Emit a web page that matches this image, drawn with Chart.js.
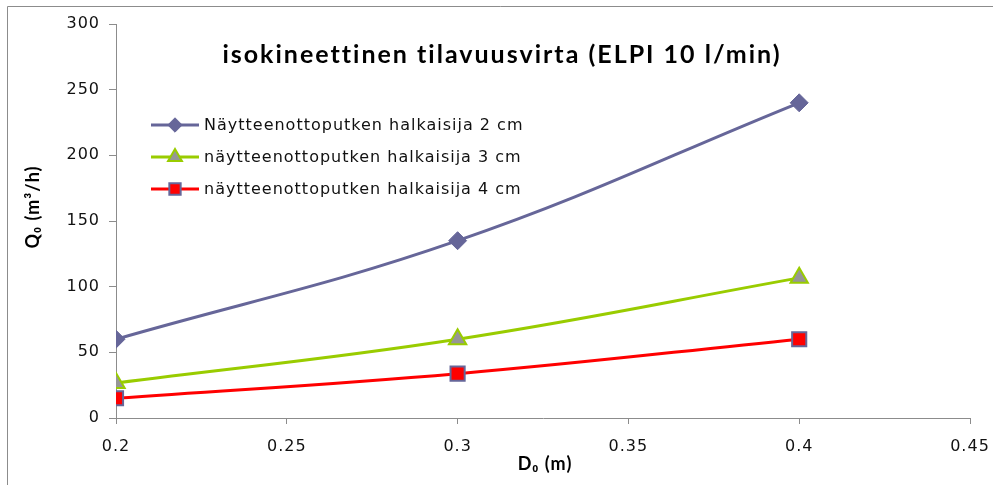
<!DOCTYPE html>
<html>
<head>
<meta charset="utf-8">
<script src="https://cdn.jsdelivr.net/npm/chart.js@4/dist/chart.umd.min.js"></script>
<style>
  html, body { margin: 0; padding: 0; background: #fff; }
  #wrap { position: relative; width: 993px; height: 485px; }
</style>
</head>
<body>
<div id="wrap"><canvas id="c" width="993" height="485"></canvas></div>
<script>
// Sampling tube diameter D0 (m)
const diameters = [0.2, 0.3, 0.4];
// Isokinetic volume flow Q0 (m3/h) for each sampling tube size
const tube2cm = [60, 135, 240];
const tube3cm = [26.7, 60, 106.7];
const tube4cm = [15, 33.75, 60];
const seriesLabels = [
  'Näytteenottoputken halkaisija 2 cm',
  'näytteenottoputken halkaisija 3 cm',
  'näytteenottoputken halkaisija 4 cm'
];
const chartTitle = 'isokineettinen tilavuusvirta (ELPI 10 l/min)';
const xTitle = 'D\u2080 (m)';
const yTitle = 'Q\u2080 (m\u00B3/h)';

const toXY = vals => vals.map((v, i) => ({ x: diameters[i], y: v }));

const tickFont = { family: 'DejaVu Sans', size: 16 };
const axisGray = '#8c8c8c';

// Outer frame line on the left and top edges; wide tracking for all text
const framePlugin = {
  id: 'frame',
  beforeDraw(chart) {
    const ctx = chart.ctx;
    ctx.save();
    ctx.strokeStyle = '#8c8c8c';
    ctx.lineWidth = 1;
    ctx.beginPath();
    ctx.moveTo(7.5, chart.height);
    ctx.lineTo(7.5, 6.5);
    ctx.lineTo(chart.width, 6.5);
    ctx.stroke();
    ctx.restore();
    ctx.letterSpacing = '1px';
  }
};

// Title, legend and axis titles
const overlayPlugin = {
  id: 'overlay',
  afterDraw(chart) {
    const ctx = chart.ctx;
    const area = chart.chartArea;
    ctx.save();
    ctx.fillStyle = '#000';
    ctx.letterSpacing = '2px';
    ctx.font = 'bold 25px Lato';
    ctx.textAlign = 'center';
    ctx.textBaseline = 'middle';
    ctx.fillText(chartTitle, 502, 55);

    const rows = [125, 157, 189];
    chart.data.datasets.forEach((ds, i) => {
      const y = rows[i];
      ctx.strokeStyle = ds.borderColor;
      ctx.lineWidth = 3;
      ctx.beginPath();
      ctx.moveTo(151, y);
      ctx.lineTo(199, y);
      ctx.stroke();
      ctx.fillStyle = ds.pointBackgroundColor;
      ctx.strokeStyle = ds.pointBorderColor;
      ctx.lineWidth = ds.pointBorderWidth;
      Chart.helpers.drawPoint(ctx, {
        pointStyle: ds.pointStyle,
        radius: ds.pointRadius * 0.8,
        rotation: 0,
        borderWidth: ds.pointBorderWidth
      }, 175, y);
      ctx.fillStyle = '#111';
      ctx.letterSpacing = '1px';
      ctx.font = '16px "DejaVu Sans"';
      ctx.textAlign = 'left';
      ctx.textBaseline = 'middle';
      ctx.fillText(ds.label, 204, y + 1);
    });

    // axis titles
    ctx.fillStyle = '#000';
    ctx.letterSpacing = '1px';
    ctx.font = 'bold 18px Lato';
    ctx.textAlign = 'center';
    ctx.textBaseline = 'middle';
    ctx.fillText(xTitle, (area.left + area.right) / 2 + 2, 464);
    ctx.translate(33, 207);
    ctx.rotate(-Math.PI / 2);
    ctx.fillText(yTitle, 0, 0);
    ctx.restore();
  }
};

new Chart(document.getElementById('c'), {
  type: 'line',
  data: {
    datasets: [
      {
        label: seriesLabels[0],
        data: toXY(tube2cm),
        borderColor: '#666699',
        borderWidth: 3,
        pointStyle: 'rectRot',
        pointRadius: 9,
        pointBackgroundColor: '#666699',
        pointBorderColor: '#666699',
        pointBorderWidth: 1,
        tension: 0.4
      },
      {
        label: seriesLabels[1],
        data: toXY(tube3cm),
        borderColor: '#99cc00',
        borderWidth: 3,
        pointStyle: 'triangle',
        pointRadius: 10,
        pointBackgroundColor: '#969696',
        pointBorderColor: '#99cc00',
        pointBorderWidth: 2,
        tension: 0.4
      },
      {
        label: seriesLabels[2],
        data: toXY(tube4cm),
        borderColor: '#ff0000',
        borderWidth: 3,
        pointStyle: 'rect',
        pointRadius: 10,
        pointBackgroundColor: '#ff0000',
        pointBorderColor: '#666699',
        pointBorderWidth: 2,
        tension: 0.4
      }
    ]
  },
  options: {
    responsive: false,
    animation: false,
    layout: { padding: { top: 24, right: 23, left: 0, bottom: 0 } },
    plugins: {
      legend: { display: false },
      title: { display: false },
      tooltip: { enabled: false }
    },
    scales: {
      x: {
        type: 'linear',
        min: 0.2,
        max: 0.45,
        afterFit: s => { s.height = 67; s.paddingLeft = 0; s.paddingRight = 0; },
        border: { display: true, color: axisGray, width: 1 },
        grid: { drawOnChartArea: false, drawTicks: true, tickLength: 6, color: axisGray },
        ticks: {
          stepSize: 0.05,
          padding: 13,
          color: '#111',
          font: tickFont,
          maxRotation: 0,
          callback: v => String(+v.toFixed(2))
        }
      },
      y: {
        min: 0,
        max: 300,
        afterFit: s => { s.width = 116; },
        border: { display: true, color: axisGray, width: 1 },
        grid: { drawOnChartArea: false, drawTicks: true, tickLength: 7, color: axisGray },
        ticks: {
          stepSize: 50,
          padding: 9,
          color: '#111',
          font: tickFont
        }
      }
    }
  },
  plugins: [framePlugin, overlayPlugin]
});
</script>
</body>
</html>
